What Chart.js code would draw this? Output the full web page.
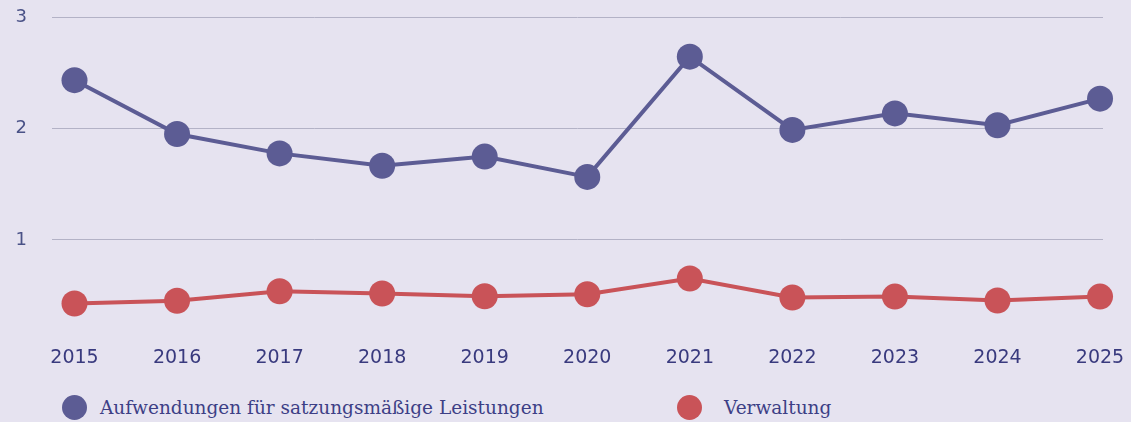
<!DOCTYPE html>
<html lang="de">
<head>
<meta charset="utf-8">
<script src="https://cdn.jsdelivr.net/npm/chart.js@4/dist/chart.umd.min.js"></script>
<style>
  html, body { margin: 0; padding: 0; background: #e6e3f0; }
  #wrap { position: relative; width: 1131px; height: 372px; }
  #legend {
    display: grid; grid-template-columns: 615px 516px;
    height: 50px; box-sizing: border-box; padding: 22px 0 0 0;
    font-family: "DejaVu Serif", serif; font-size: 18.5px; color: #3d3f86;
  }
  .item { display: flex; align-items: center; height: 26px; }
  .dot { width: 25px; height: 25px; border-radius: 50%; flex: none; }
</style>
</head>
<body>
<div id="wrap"><canvas id="chart" width="1131" height="372"></canvas></div>
<div id="legend"></div>
<script>
const years = [2015, 2016, 2017, 2018, 2019, 2020, 2021, 2022, 2023, 2024, 2025];
const leistungen = [2.433, 1.95, 1.776, 1.665, 1.747, 1.565, 2.644, 1.987, 2.135, 2.028, 2.267];
const verwaltung = [0.429, 0.453, 0.539, 0.518, 0.494, 0.512, 0.653, 0.483, 0.491, 0.456, 0.491];
const yTicks = [1, 2, 3];
const seriesLabels = ["Aufwendungen für satzungsmäßige Leistungen", "Verwaltung"];
const seriesColors = ["#5c5c94", "#c95358"];

const toPoints = (vals) => years.map((y, i) => ({ x: y, y: vals[i] }));

const ctx = document.getElementById("chart").getContext("2d");
new Chart(ctx, {
  type: "line",
  data: {
    datasets: [leistungen, verwaltung].map((vals, i) => ({
      label: seriesLabels[i],
      data: toPoints(vals),
      borderColor: seriesColors[i],
      backgroundColor: seriesColors[i],
      pointBackgroundColor: seriesColors[i],
      borderWidth: 4,
      pointRadius: 13,
      pointBorderWidth: 0,
      pointHoverRadius: 13,
      tension: 0,
      fill: false,
      clip: false,
    })),
  },
  options: {
    responsive: false,
    animation: false,
    layout: { autoPadding: false, padding: { left: 0, right: 28, top: 17, bottom: 3 } },
    plugins: { legend: { display: false }, tooltip: { enabled: false } },
    scales: {
      x: {
        type: "linear",
        min: 2014.7806,
        max: 2025.029,
        afterBuildTicks: (s) => { s.ticks = years.map((v) => ({ value: v })); },
        afterFit: (s) => { s.height = 40; s.paddingLeft = 0; s.paddingRight = 0; },
        grid: { display: false, drawTicks: false },
        border: { display: false },
        ticks: {
          padding: 18,
          color: "#393a7e",
          font: { family: "DejaVu Sans", size: 19 },
          callback: (v) => String(v),
          maxRotation: 0,
          autoSkip: false,
        },
      },
      y: {
        min: 0.2,
        max: 3,
        afterBuildTicks: (s) => { s.ticks = yTicks.map((v) => ({ value: v })); },
        afterFit: (s) => { s.width = 52; s.paddingTop = 0; s.paddingBottom = 0; },
        grid: { color: "#b3b2c6", lineWidth: 1, drawTicks: false },
        border: { display: false },
        ticks: {
          padding: 25,
          color: "#4a5287",
          font: { family: "DejaVu Sans", size: 18 },
        },
      },
    },
  },
});

const legend = document.getElementById("legend");
seriesLabels.forEach((lab, i) => {
  const item = document.createElement("div");
  item.className = "item";
  item.style.paddingLeft = "62px";
  const dot = document.createElement("span");
  dot.className = "dot";
  dot.style.background = seriesColors[i];
  const txt = document.createElement("span");
  txt.textContent = lab;
  txt.style.marginLeft = i === 0 ? "13px" : "22px";
  item.appendChild(dot);
  item.appendChild(txt);
  legend.appendChild(item);
});
</script>
</body>
</html>
